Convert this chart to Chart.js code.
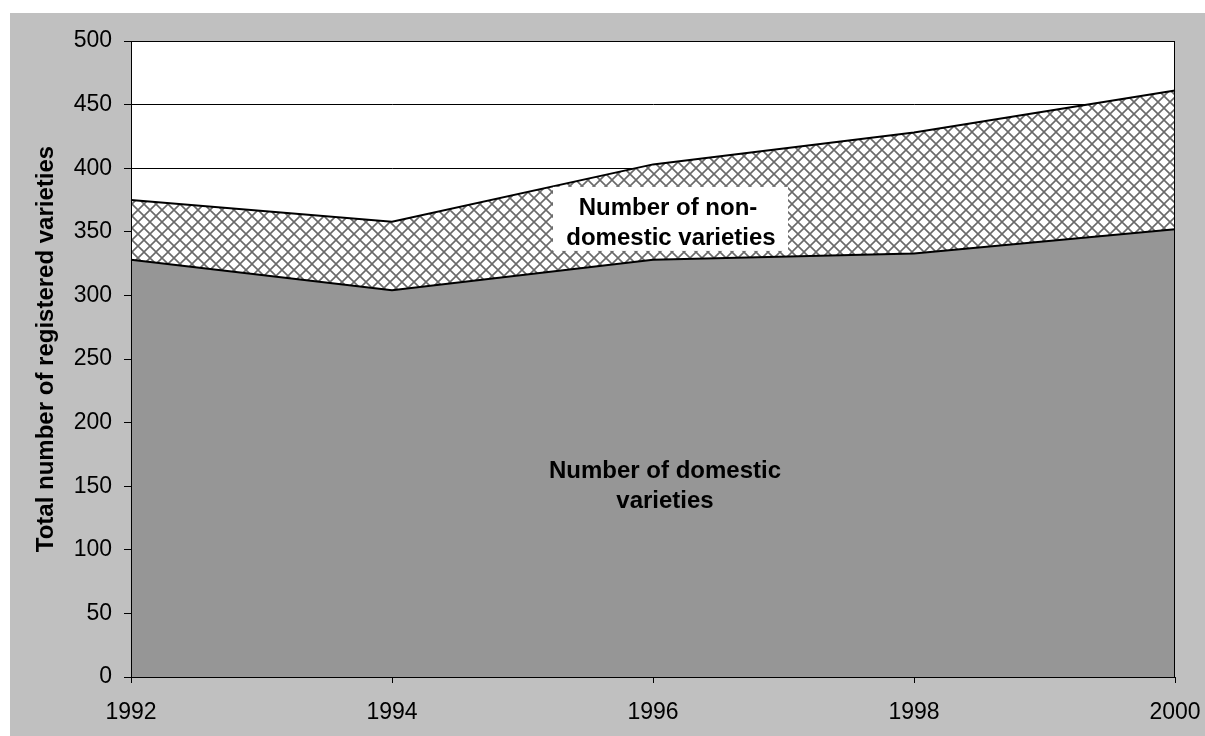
<!DOCTYPE html>
<html>
<head>
<meta charset="utf-8">
<script src="https://cdn.jsdelivr.net/npm/chart.js@4/dist/chart.umd.min.js"></script>
<style>
  html, body { margin: 0; padding: 0; background: #ffffff; }
  #wrap { width: 1205px; height: 736px; }
</style>
</head>
<body>
<div id="wrap"><canvas id="chart" width="1205" height="736"></canvas></div>
<script>
// Registered varieties, 1992-2000
const years = ['1992', '1994', '1996', '1998', '2000'];
const domestic = [328, 304, 328, 333, 352];
const nonDomestic = [47, 54, 75, 95, 109];
const yTicks = [0, 50, 100, 150, 200, 250, 300, 350, 400, 450, 500];
const yTitle = 'Total number of registered varieties';

const FONT = '"Liberation Sans", Arial, sans-serif';

// crosshatch pattern for the non-domestic band
function makeHatch() {
  const s = 12;
  const c = document.createElement('canvas');
  c.width = s; c.height = s;
  const g = c.getContext('2d');
  g.fillStyle = '#ffffff';
  g.fillRect(0, 0, s, s);
  g.strokeStyle = '#6a6a6a';
  g.lineWidth = 1.6;
  g.beginPath();
  g.moveTo(0, 0); g.lineTo(s, s);
  g.moveTo(s, 0); g.lineTo(0, s);
  g.stroke();
  return g.createPattern(c, 'repeat');
}

const ctx = document.getElementById('chart').getContext('2d');

const backdrop = {
  id: 'backdrop',
  beforeDraw(chart) {
    const c = chart.ctx;
    const a = chart.chartArea;
    c.save();
    c.fillStyle = '#c0c0c0';
    c.fillRect(10, 13, chart.width - 10, chart.height - 13);
    c.fillStyle = '#ffffff';
    c.fillRect(a.left, a.top, a.right - a.left, a.bottom - a.top);
    c.restore();
  },
  afterDatasetsDraw(chart) {
    const c = chart.ctx;
    const a = chart.chartArea;
    const xs = chart.scales.x, ys = chart.scales.y;
    c.save();
    c.strokeStyle = '#000000';
    c.lineWidth = 1;
    c.strokeRect(a.left + 0.5, a.top + 0.5, a.right - a.left - 1, a.bottom - a.top);

    // axis title
    c.save();
    c.translate(46, 349);
    c.rotate(-Math.PI / 2);
    c.font = 'bold 24px ' + FONT;
    c.fillStyle = '#000000';
    c.textAlign = 'center';
    c.textBaseline = 'middle';
    c.fillText(yTitle, 0, 0);
    c.restore();

    // series labels
    c.font = 'bold 24px ' + FONT;
    c.textAlign = 'center';
    c.textBaseline = 'middle';
    const x96 = xs.getPixelForValue(2);

    const y1 = ys.getPixelForValue(357);
    c.fillStyle = '#ffffff';
    c.fillRect(553, y1 - 36, 235, 64);
    c.fillStyle = '#000000';
    c.fillText('Number of non-', x96 + 15, y1 - 15);
    c.fillText('domestic varieties', x96 + 18, y1 + 15);

    const y2 = ys.getPixelForValue(150);
    c.fillText('Number of domestic', x96 + 12, y2 - 15);
    c.fillText('varieties', x96 + 12, y2 + 15);
    c.restore();
  }
};

new Chart(ctx, {
  type: 'line',
  data: {
    labels: years,
    datasets: [
      {
        label: 'Number of domestic varieties',
        data: domestic,
        fill: 'origin',
        backgroundColor: '#969696',
        borderColor: '#000000',
        borderWidth: 2,
        pointRadius: 0,
        tension: 0
      },
      {
        label: 'Number of non-domestic varieties',
        data: nonDomestic,
        fill: '-1',
        backgroundColor: makeHatch(),
        borderColor: '#000000',
        borderWidth: 2,
        pointRadius: 0,
        tension: 0
      }
    ]
  },
  options: {
    responsive: false,
    animation: false,
    layout: { padding: { left: 10, top: 41, right: 30, bottom: 0 } },
    plugins: {
      legend: { display: false },
      tooltip: { enabled: false }
    },
    scales: {
      x: {
        offset: false,
        grid: { display: true, drawOnChartArea: false, color: '#000000', tickLength: 6 },
        border: { display: true, color: '#000000' },
        ticks: { color: '#000000', font: { family: FONT, size: 23 }, padding: 16, maxRotation: 0 },
        afterFit(scale) {
          scale.height = 59;
          scale.paddingLeft = 0;
          scale.paddingRight = 0;
        }
      },
      y: {
        stacked: true,
        min: 0,
        max: 500,
        afterBuildTicks(scale) { scale.ticks = yTicks.map(v => ({ value: v })); },
        grid: { color: '#000000', lineWidth: 1, tickLength: 7 },
        border: { display: true, color: '#000000' },
        ticks: { color: '#000000', font: { family: FONT, size: 23 }, padding: 12 },
        afterFit(scale) {
          scale.width = 121;
          scale.paddingTop = 0;
          scale.paddingBottom = 0;
        }
      }
    }
  },
  plugins: [backdrop]
});
</script>
</body>
</html>
